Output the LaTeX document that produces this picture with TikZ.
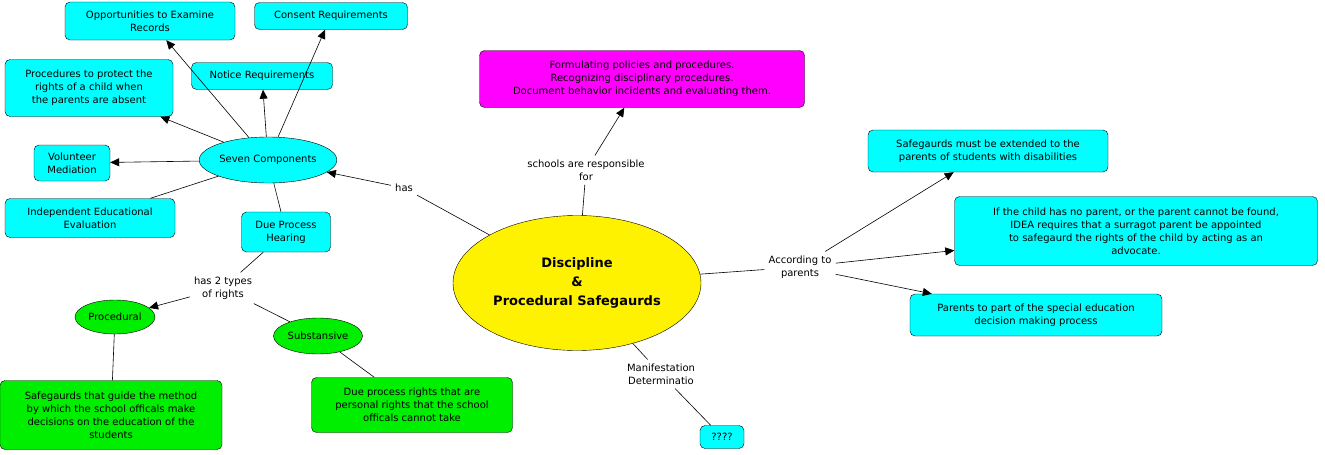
\documentclass[tikz,border=0pt]{standalone}
\usepackage{fontspec}
\setmainfont{DejaVu Sans}
\usetikzlibrary{shapes.geometric,arrows.meta}
\definecolor{cy}{HTML}{00FFFF}
\definecolor{gr}{HTML}{00EE00}
\definecolor{mg}{HTML}{FF00FF}
\begin{document}
\begin{tikzpicture}[x=1pt,y=-1pt,
  every node/.style={font=\fontsize{10}{13}\selectfont,align=center},
  box/.style={draw,rounded corners=5pt,fill=cy,inner sep=0pt},
  gbox/.style={box,fill=gr},
  ell/.style={draw,ellipse,fill=cy,inner sep=0pt},
  lab/.style={inner sep=4pt},
  arr/.style={-{Triangle[length=9pt,width=8pt]}},
  ln/.style={line width=0.6pt}]
\useasboundingbox (0,0) rectangle (1325,455);
\node[box,minimum width=170,minimum height=38] (opp) at (150,21) {Opportunities to Examine\\Records};
\node[box,minimum width=153,minimum height=27] (cons) at (331,16) {Consent Requirements};
\node[box,minimum width=168,minimum height=57] (proc) at (89,88) {Procedures to protect the\\rights of a child when\\the parents are absent};
\node[box,minimum width=141,minimum height=27] (not) at (262,76) {Notice Requirements};
\node[box,minimum width=76,minimum height=36] (vol) at (72,163) {Volunteer\\Mediation};
\node[ell,minimum width=135,minimum height=46] (seven) at (268,160) {Seven Components};
\node[box,minimum width=170,minimum height=39] (iee) at (90,218) {Independent Educational\\Evaluation};
\node[box,minimum width=89,minimum height=40] (dph) at (286,232) {Due Process\\Hearing};
\node[lab] (types) at (223,288) {has 2 types\\of rights};
\node[ell,fill=gr,minimum width=80,minimum height=34] (pr) at (115,317) {Procedural};
\node[ell,fill=gr,minimum width=89,minimum height=36] (sub) at (318,336) {Substansive};
\node[gbox,minimum width=222,minimum height=69] (sg) at (111,415) {Safegaurds that guide the method\\by which the school officals make\\decisions on the education of the\\students};
\node[gbox,minimum width=201,minimum height=55] (dpr) at (412,405) {Due process rights that are\\personal rights that the school\\officals cannot take};
\node[draw,ellipse,fill=yellow,minimum width=248,minimum height=135,inner sep=0pt,font=\fontsize{13}{19}\selectfont\bfseries] (main) at (577,283) {Discipline\\\&\\Procedural Safegaurds};
\node[lab] (has) at (404,188) {has};
\node[box,fill=mg,minimum width=325,minimum height=57] (mag) at (642,79) {Formulating policies and procedures.\\Recognizing disciplinary procedures.\\Document behavior incidents and evaluating them.};
\node[lab] (sch) at (586,170) {schools are responsible\\for};
\node[lab] (man) at (661,374) {Manifestation\\Determinatio};
\node[box,minimum width=44,minimum height=23] (q) at (722,437) {????};
\node[lab] (acc) at (800,267) {According to\\parents};
\node[box,minimum width=240,minimum height=42] (ext) at (988,151) {Safegaurds must be extended to the\\parents of students with disabilities};
\node[box,minimum width=363,minimum height=69] (idea) at (1136,231) {If the child has no parent, or the parent cannot be found,\\IDEA requires that a surragot parent be appointed\\to safegaurd the rights of the child by acting as an\\advocate.};
\node[box,minimum width=252,minimum height=42] (par) at (1036,315) {Parents to part of the special education\\decision making process};
\begin{scope}[ln]
\draw (main) -- (has);
\draw[arr] (has) -- (seven);
\draw[arr] (seven) -- (opp);
\draw[arr] (seven) -- (cons);
\draw[arr] (seven) -- (proc);
\draw[arr] (seven) -- (not);
\draw[arr] (seven) -- (vol);
\draw (seven) -- (iee);
\draw (seven) -- (dph);
\draw (dph) -- (types);
\draw[arr] (types) -- (pr);
\draw (types) -- (sub);
\draw (pr) -- (sg);
\draw (sub) -- (dpr);
\draw (main) -- (sch);
\draw[arr] (sch) -- (mag);
\draw (main) -- (man);
\draw (man) -- (q);
\draw (main) -- (acc);
\draw[arr] (acc) -- (ext);
\draw[arr] (acc) -- (idea);
\draw[arr] (acc) -- (par);
\end{scope}
\end{tikzpicture}
\end{document}
